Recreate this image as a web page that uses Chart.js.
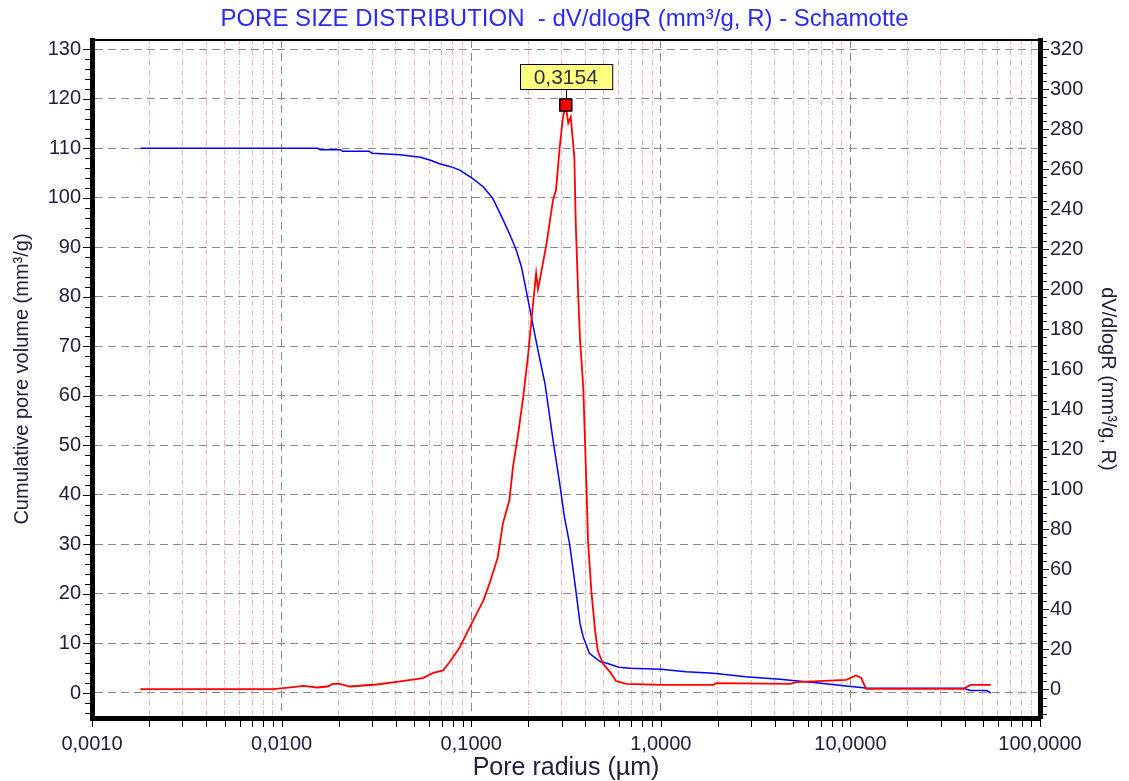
<!DOCTYPE html>
<html>
<head>
<meta charset="utf-8">
<script src="https://cdn.jsdelivr.net/npm/chart.js@4/dist/chart.umd.min.js"></script>
<style>
html, body { margin: 0; padding: 0; background: #fff; }
</style>
</head>
<body>
<canvas id="chart1" width="1129" height="781"></canvas>
<script>
// cumulative pore volume (left axis, mm³/g)
var cumRadius = [0.0018, 0.0155, 0.016, 0.0205, 0.021, 0.029, 0.03, 0.042, 0.054, 0.061, 0.068, 0.078, 0.087,
    0.102, 0.116, 0.13, 0.145, 0.159, 0.173, 0.184, 0.195, 0.211, 0.225, 0.245, 0.27, 0.293, 0.31, 0.33,
    0.345, 0.36, 0.375, 0.39, 0.42, 0.48, 0.52, 0.6, 0.69, 1.0, 1.36, 1.9, 2.8, 4.25, 6.4, 9.5, 12.1,
    39.4, 43, 52.4, 55];
var cumVolume = [110, 110, 109.7, 109.7, 109.4, 109.4, 109.0, 108.7, 108.2, 107.6, 106.9, 106.3, 105.6,
    103.9, 102.2, 99.9, 96.1, 92.8, 89.4, 86.1, 81.3, 74.6, 69.2, 62.5, 51.1, 42.3, 35.6, 30.2,
    24.8, 19.4, 14.0, 11.3, 8.0, 6.3, 6.0, 5.2, 5.0, 4.8, 4.3, 4.0, 3.3, 2.8, 2.1, 1.4, 1.0,
    0.95, 0.5, 0.5, 0.0];

// dV/dlogR (right axis)
var distRadius = [0.0018, 0.009, 0.0102, 0.0115, 0.013, 0.0154, 0.0175, 0.0186, 0.0203, 0.0229, 0.0318,
    0.0405, 0.0556, 0.063, 0.071, 0.077, 0.087, 0.1006, 0.116, 0.125, 0.138, 0.147, 0.159, 0.166,
    0.177, 0.188, 0.2, 0.211, 0.22, 0.225, 0.23, 0.25, 0.27, 0.28, 0.293, 0.305, 0.3154, 0.325,
    0.335, 0.35, 0.356, 0.366, 0.375, 0.39, 0.406, 0.413, 0.43, 0.45, 0.465, 0.495, 0.54, 0.58,
    0.66, 1.0, 1.9, 1.95, 4.8, 5.2, 9.5, 10.7, 11.4, 12.1, 39.4, 43, 55];
var distValue = [0.2, 0.2, 0.7, 1.2, 1.8, 1.0, 1.5, 2.8, 2.8, 1.5, 2.5,
    3.8, 5.7, 8.3, 9.5, 13.7, 21, 33, 44.5, 53, 66, 83, 94.5, 111,
    128, 146, 168, 191, 208, 200, 204.5, 223, 244.5, 249.5, 271, 286, 292, 283,
    286, 266, 233, 199.5, 174.5, 151, 99.5, 74.5, 49.5, 29.5, 19.5, 13, 8.7, 4.2,
    2.8, 2.3, 2.3, 3.2, 2.8, 3.7, 4.8, 7, 5.8, 0.3, 0.3, 2.3, 2.3];

var peakRadius = [0.3154];
var peakValue = [292];
var peakLabel = '0,3154';

var xMajor = [0.001, 0.01, 0.1, 1, 10, 100];
var xLabels = ['0,0010', '0,0100', '0,1000', '1,0000', '10,0000', '100,0000'];
var leftTicks = [0, 10, 20, 30, 40, 50, 60, 70, 80, 90, 100, 110, 120, 130];
var rightTicks = [0, 20, 40, 60, 80, 100, 120, 140, 160, 180, 200, 220, 240, 260, 280, 300, 320];

function pts(xs, ys) {
    return xs.map(function(x, i) { return {x: x, y: ys[i]}; });
}

// all log positions 1..9 x each decade
var xTickValues = [];
xMajor.forEach(function(d, i) {
    if (i === xMajor.length - 1) { xTickValues.push(d); return; }
    for (var k = 1; k <= 9; k++) xTickValues.push(d * k);
});

function majorIndex(v) {
    for (var i = 0; i < xMajor.length; i++) {
        if (Math.abs(v - xMajor[i]) / xMajor[i] < 1e-6) return i;
    }
    return -1;
}

var labelFont = {family: "'Liberation Sans', Arial, sans-serif", size: 20};
var labelColor = '#20203a';

var frame = {
    id: 'frame',
    afterDraw: function(chart) {
        var ctx = chart.ctx, a = chart.chartArea;
        var sx = chart.scales.x, sl = chart.scales.y, sr = chart.scales.y1;
        ctx.save();
        ctx.strokeStyle = '#000';
        ctx.lineWidth = 2;
        ctx.beginPath();
        ctx.moveTo(a.left, a.top);
        ctx.lineTo(a.right, a.top);
        ctx.stroke();

        ctx.lineWidth = 1;
        ctx.beginPath();
        var v, p;
        for (v = -4; v <= 130; v += 2) {
            p = Math.round(sl.getPixelForValue(v)) + 0.5;
            ctx.moveTo(a.left - (v % 10 === 0 ? 9 : 7), p);
            ctx.lineTo(a.left - 2, p);
        }
        for (v = -12; v <= 324; v += 4) {
            p = Math.round(sr.getPixelForValue(v)) + 0.5;
            ctx.moveTo(a.right + 2, p);
            ctx.lineTo(a.right + (v % 20 === 0 ? 9 : 7), p);
        }
        xTickValues.forEach(function(t) {
            p = Math.round(sx.getPixelForValue(t)) + 0.5;
            ctx.moveTo(p, a.bottom + 2);
            ctx.lineTo(p, a.bottom + 9);
        });
        ctx.stroke();
        ctx.restore();
    },
    afterDatasetsDraw: function(chart) {
        var ctx = chart.ctx;
        var px = chart.scales.x.getPixelForValue(peakRadius[0]);
        var py = chart.scales.y1.getPixelForValue(peakValue[0]);
        ctx.save();
        ctx.font = "21px 'Liberation Sans', Arial, sans-serif";
        var w = ctx.measureText(peakLabel).width + 28;
        var h = 25;
        var bx = Math.round(px - w / 2) + 0.5, by = Math.round(py - 41) + 0.5;
        ctx.strokeStyle = '#000';
        ctx.lineWidth = 1;
        ctx.beginPath();
        ctx.moveTo(Math.round(px) + 0.5, by + h);
        ctx.lineTo(Math.round(px) + 0.5, py - 6);
        ctx.stroke();
        ctx.fillStyle = '#ffff80';
        ctx.fillRect(bx, by, w, h);
        ctx.strokeRect(bx, by, w, h);
        ctx.fillStyle = '#303040';
        ctx.textAlign = 'center';
        ctx.textBaseline = 'middle';
        ctx.fillText(peakLabel, px, by + h / 2 + 1);
        ctx.restore();
    }
};

var ctx1 = document.getElementById('chart1').getContext('2d');
var chart1 = new Chart(ctx1, {
    type: 'scatter',
    data: {
        datasets: [{
            label: 'peak',
            data: pts(peakRadius, peakValue),
            yAxisID: 'y1',
            pointStyle: 'rect',
            pointRadius: 8.5,
            backgroundColor: '#ff0000',
            borderColor: '#000',
            borderWidth: 1.5,
            order: 0
        }, {
            label: 'dV/dlogR',
            data: pts(distRadius, distValue),
            yAxisID: 'y1',
            showLine: true,
            borderColor: '#ff0000',
            borderWidth: 1.8,
            pointRadius: 0,
            tension: 0,
            order: 1
        }, {
            label: 'Cumulative',
            data: pts(cumRadius, cumVolume),
            yAxisID: 'y',
            showLine: true,
            borderColor: '#0000ff',
            borderWidth: 1.5,
            pointRadius: 0,
            tension: 0,
            order: 2
        }]
    },
    options: {
        responsive: false,
        animation: false,
        devicePixelRatio: 1,
        layout: {padding: 0},
        plugins: {
            legend: {display: false},
            tooltip: {enabled: false},
            title: {
                display: true,
                text: 'PORE SIZE DISTRIBUTION  - dV/dlogR (mm³/g, R) - Schamotte',
                color: '#2a2aef',
                font: {family: "'Liberation Sans', Arial, sans-serif", size: 24, weight: 'normal'},
                padding: {top: 5, bottom: 6.2}
            }
        },
        scales: {
            x: {
                type: 'logarithmic',
                position: 'bottom',
                min: 0.001,
                max: 100,
                afterBuildTicks: function(axis) {
                    axis.ticks = xTickValues.map(function(v) { return {value: v}; });
                },
                afterFit: function(axis) { axis.height = 63; },
                ticks: {
                    autoSkip: false,
                    maxRotation: 0,
                    minRotation: 0,
                    padding: 14,
                    color: labelColor,
                    font: labelFont,
                    major: {enabled: false},
                    callback: function(value) {
                        var i = majorIndex(value);
                        return i >= 0 ? xLabels[i] : '';
                    }
                },
                grid: {
                    drawTicks: false,
                    lineWidth: 1,
                    color: function(c) {
                        if (!c.tick) return '#000';
                        return majorIndex(c.tick.value) >= 0 ? '#8a8a8a' : 'rgba(240,110,110,0.55)';
                    }
                },
                border: {
                    display: true,
                    color: '#000',
                    width: 5,
                    dash: function(c) {
                        if (!c.tick) return [];
                        return majorIndex(c.tick.value) >= 0 ? [8, 5] : [5, 2, 1, 2];
                    }
                },
                title: {
                    display: true,
                    text: 'Pore radius (µm)',
                    color: labelColor,
                    font: {family: "'Liberation Sans', Arial, sans-serif", size: 25},
                    padding: {top: 0, bottom: -2}
                }
            },
            y: {
                type: 'linear',
                position: 'left',
                min: -5.05,
                max: 131.88,
                afterBuildTicks: function(axis) {
                    axis.ticks = leftTicks.map(function(v) { return {value: v}; });
                },
                afterFit: function(axis) { axis.width = 92; },
                ticks: {
                    padding: 11,
                    color: labelColor,
                    font: labelFont
                },
                grid: {
                    drawTicks: false,
                    color: '#8a8a8a',
                    lineWidth: 1
                },
                border: {display: true, color: '#000', width: 5, dash: [8, 5]},
                title: {
                    display: true,
                    text: 'Cumulative pore volume (mm³/g)',
                    color: labelColor,
                    font: {family: "'Liberation Sans', Arial, sans-serif", size: 20},
                    padding: {top: 10, bottom: 0}
                }
            },
            y1: {
                type: 'linear',
                position: 'right',
                min: -14.24,
                max: 324.5,
                afterBuildTicks: function(axis) {
                    axis.ticks = rightTicks.map(function(v) { return {value: v}; });
                },
                afterFit: function(axis) { axis.width = 89; },
                ticks: {
                    padding: 10,
                    color: labelColor,
                    font: labelFont
                },
                grid: {drawTicks: false, drawOnChartArea: false},
                border: {display: true, color: '#000', width: 5},
                title: {
                    display: true,
                    text: 'dV/dlogR (mm³/g, R)',
                    color: labelColor,
                    font: {family: "'Liberation Sans', Arial, sans-serif", size: 20},
                    padding: {top: 9, bottom: 0}
                }
            }
        }
    },
    plugins: [frame]
});
</script>
</body>
</html>
